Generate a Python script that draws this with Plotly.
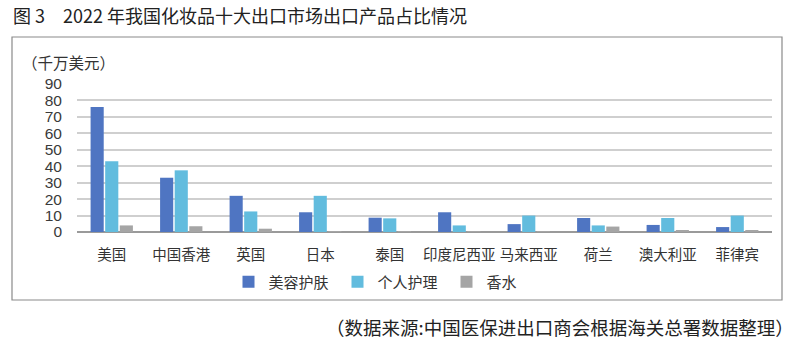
import plotly.graph_objects as go

categories = ["美国", "中国香港", "英国", "日本", "泰国", "印度尼西亚", "马来西亚", "荷兰", "澳大利亚", "菲律宾"]
beauty = [76, 33, 22, 12, 8.7, 12, 4.8, 8.5, 4.3, 3]
personal = [43, 37.5, 12.5, 22, 8.3, 4, 10, 4, 8.5, 10]
perfume = [4, 3.5, 2, 0.5, 0.5, 0.5, 0.5, 3.3, 1, 1]
series_names = ["美容护肤", "个人护理", "香水"]
colors = ["#4F75C2", "#62BCDE", "#A5A5A5"]
yticks = [0, 10, 20, 30, 40, 50, 60, 70, 80, 90]

FONT = "Noto Sans CJK SC"

fig = go.Figure()
for name, vals, c in zip(series_names, [beauty, personal, perfume], colors):
    fig.add_trace(go.Bar(x=categories, y=vals, name=name, marker=dict(color=c, line=dict(width=0))))

L, R, T, B = 77, 28, 84, 109
W, H = 800, 341
pw, ph = W - L - R, H - T - B

def px(x):
    return (x - L) / pw

def py(y):
    return (H - B - y) / ph

fig.update_layout(
    width=W, height=H,
    margin=dict(l=L, r=R, t=T, b=B),
    paper_bgcolor="white", plot_bgcolor="white",
    font=dict(family=FONT, color="#333333"),
    barmode="group", bargap=0.37, bargroupgap=0.1,
    showlegend=True,
    legend=dict(orientation="h", x=px(392), xanchor="center", y=py(282), yanchor="middle",
                font=dict(size=15, color="#333333"), itemwidth=30, traceorder="normal",
                entrywidth=64, entrywidthmode="pixels",
                bgcolor="rgba(0,0,0,0)"),
    xaxis=dict(showgrid=False, showline=False, ticks="", ticklabelstandoff=12,
               tickfont=dict(size=14.5, color="#333333")),
    yaxis=dict(range=[0, 90], tickvals=yticks, showgrid=True, gridcolor="#CFCFCF", gridwidth=1.5,
               zeroline=True, zerolinecolor="#9A9A9A", zerolinewidth=1.5,
               showline=False, ticks="", ticklabelstandoff=14,
               tickfont=dict(size=15.5, color="#3A3A3A", family="Liberation Sans")),
)

fig.add_shape(type="rect", xref="paper", yref="paper",
              x0=px(12), x1=px(782), y0=py(300), y1=py(37),
              line=dict(color="#8A8A8A", width=1.2), fillcolor="rgba(0,0,0,0)", layer="below")

fig.add_annotation(xref="paper", yref="paper", x=px(11), y=py(15), xanchor="left", yanchor="middle",
                   text="图 3　2022 年我国化妆品十大出口市场出口产品占比情况", showarrow=False,
                   font=dict(size=18, color="#222222", family=FONT))
fig.add_annotation(xref="paper", yref="paper", x=px(20), y=py(62), xanchor="left", yanchor="middle",
                   text="（千万美元）", showarrow=False,
                   font=dict(size=15.5, color="#333333", family=FONT))
fig.add_annotation(xref="paper", yref="paper", x=px(796), y=py(327), xanchor="right", yanchor="middle",
                   text="（数据来源:中国医保进出口商会根据海关总署数据整理）", showarrow=False,
                   font=dict(size=18.5, color="#222222", family=FONT))

fig.write_html("out.html")
